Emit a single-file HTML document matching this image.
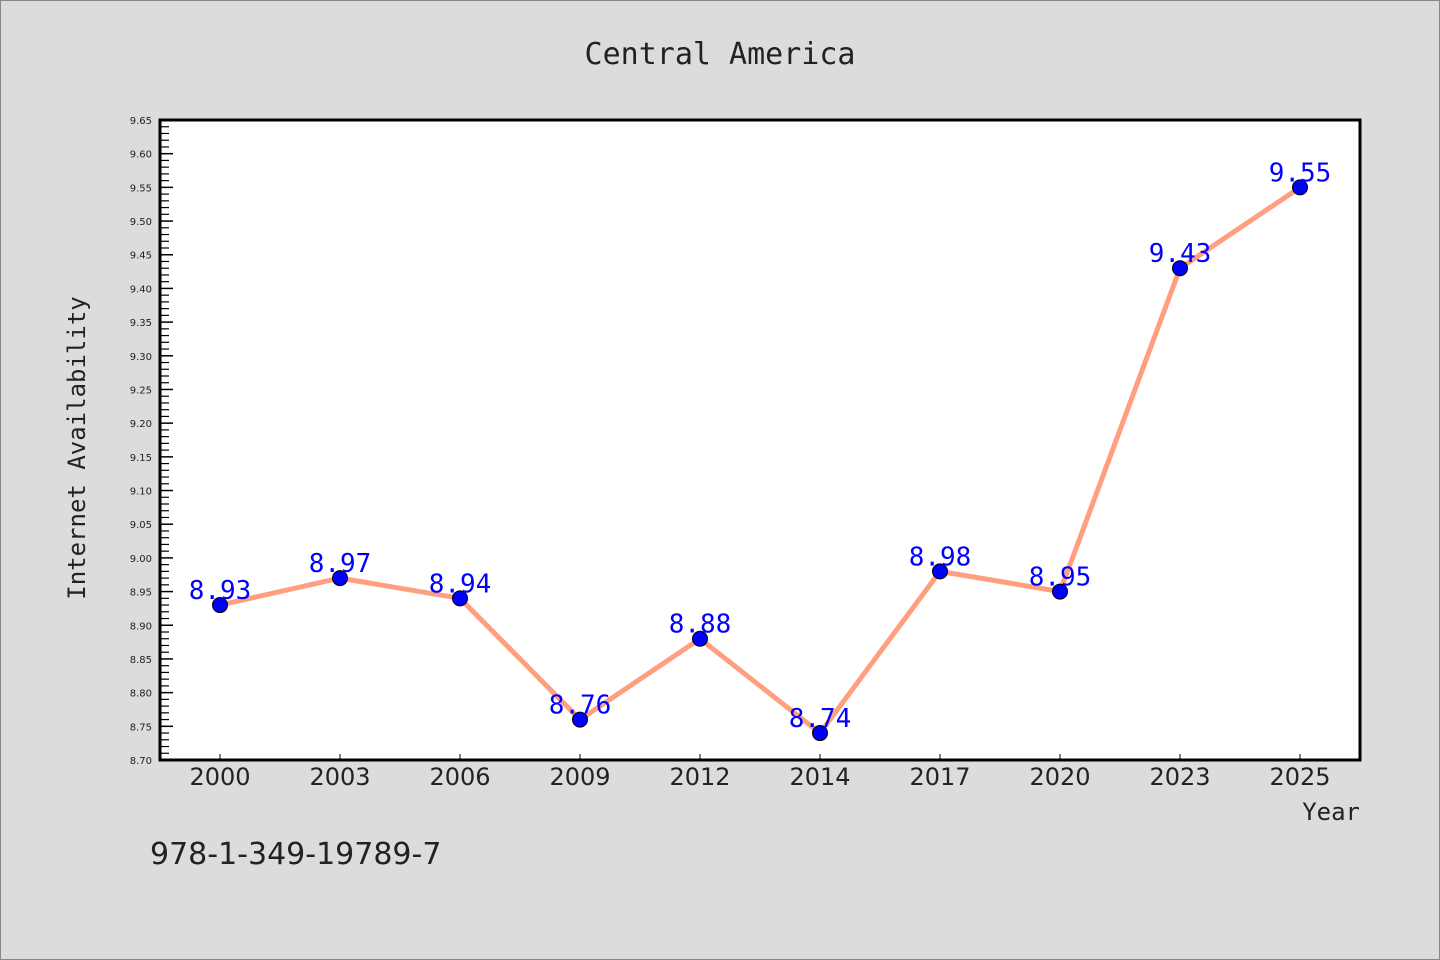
<!DOCTYPE html>
<html><head><meta charset="utf-8"><style>
body{margin:0;background:#dcdcdc;}
svg{display:block}
</style></head><body>
<svg width="1440" height="960" id="c">
<rect x="0.5" y="0.5" width="1439" height="959" fill="#dcdcdc" stroke="#888"/>
<text x="720" y="64" text-anchor="middle" font-family="DejaVu Sans Mono, Liberation Mono, monospace" font-size="30" fill="#222">Central America</text>
<rect x="160" y="120" width="1200" height="640" fill="#fff"/>
<g id="yt"></g>
<g id="xt"></g>
<rect x="160" y="120" width="1200" height="640" fill="none" stroke="#000" stroke-width="3"/>
<g id="series"></g>
<text x="1360" y="820" text-anchor="end" font-family="DejaVu Sans Mono, Liberation Mono, monospace" font-size="24" fill="#222">Year</text>
<text transform="translate(85,448) rotate(-90)" text-anchor="middle" font-family="DejaVu Sans Mono, Liberation Mono, monospace" font-size="24" fill="#222">Internet Availability</text>
<text x="150" y="864" font-family="DejaVu Sans, Liberation Sans, sans-serif" font-size="30" fill="#222">978-1-349-19789-7</text>
</svg>
<script>
const categories=["2000","2003","2006","2009","2012","2014","2017","2020","2023","2025"];
const values=[8.93,8.97,8.94,8.76,8.88,8.74,8.98,8.95,9.43,9.55];
const yTicks=["8.70","8.75","8.80","8.85","8.90","8.95","9.00","9.05","9.10","9.15","9.20","9.25","9.30","9.35","9.40","9.45","9.50","9.55","9.60","9.65"];
const NS="http://www.w3.org/2000/svg";
const L=160,R=1360,T=120,B=760,yMin=8.70,yMax=9.65;
const band=(R-L)/categories.length;
const x=i=>L+band*(i+0.5);
const y=v=>B-(v-yMin)/(yMax-yMin)*(B-T);
function mk(t,a,p){const e=document.createElementNS(NS,t);for(const k in a)e.setAttribute(k,a[k]);p.appendChild(e);return e;}
const yt=document.getElementById('yt'),xt=document.getElementById('xt'),s=document.getElementById('series');
yTicks.forEach((t,i)=>{
  const v=parseFloat(t),yy=y(v);
  const ln=mk('line',{x1:L,x2:L+13,y1:yy,y2:yy,stroke:'#000','stroke-width':1.5},yt);
  
  
  const tx=mk('text',{x:L-8,y:yy+4,'text-anchor':'end','font-family':'DejaVu Sans, sans-serif','font-size':10,fill:'#222'},yt);
  tx.textContent=t;
  
  
  if(i<yTicks.length-1){for(let m=1;m<5;m++){const my=y(v+0.01*m);
    const mn=mk('line',{x1:L,x2:L+9,y1:my,y2:my,stroke:'#000','stroke-width':1.2},yt);
    
    }}
});
categories.forEach((c,i)=>{
  const xx=x(i);
  const ln=mk('line',{x1:xx,x2:xx,y1:B-6,y2:B,stroke:'#000','stroke-width':1},xt);
  
  
  const tx=mk('text',{x:xx,y:B+25,'text-anchor':'middle','font-family':'DejaVu Sans, sans-serif','font-size':24,fill:'#222'},xt);
  tx.textContent=c;
  
  
});
const pl=mk('polyline',{points:values.map((v,i)=>x(i)+','+y(v)).join(' '),fill:'none',stroke:'#ff9f7f','stroke-width':5,'stroke-linejoin':'round'},s);


values.forEach((v,i)=>{
  const c=mk('circle',{cx:x(i),cy:y(v),r:7.5,fill:'#0000ff',stroke:'#000','stroke-width':1},s);
  
  
});
values.forEach((v,i)=>{
  const t=mk('text',{x:x(i),y:y(v)-6,'text-anchor':'middle','font-family':'DejaVu Sans Mono, monospace','font-size':26,fill:'#0000ff'},s);
  t.textContent=v.toFixed(2);
  
  
});
</script>
</body></html>
